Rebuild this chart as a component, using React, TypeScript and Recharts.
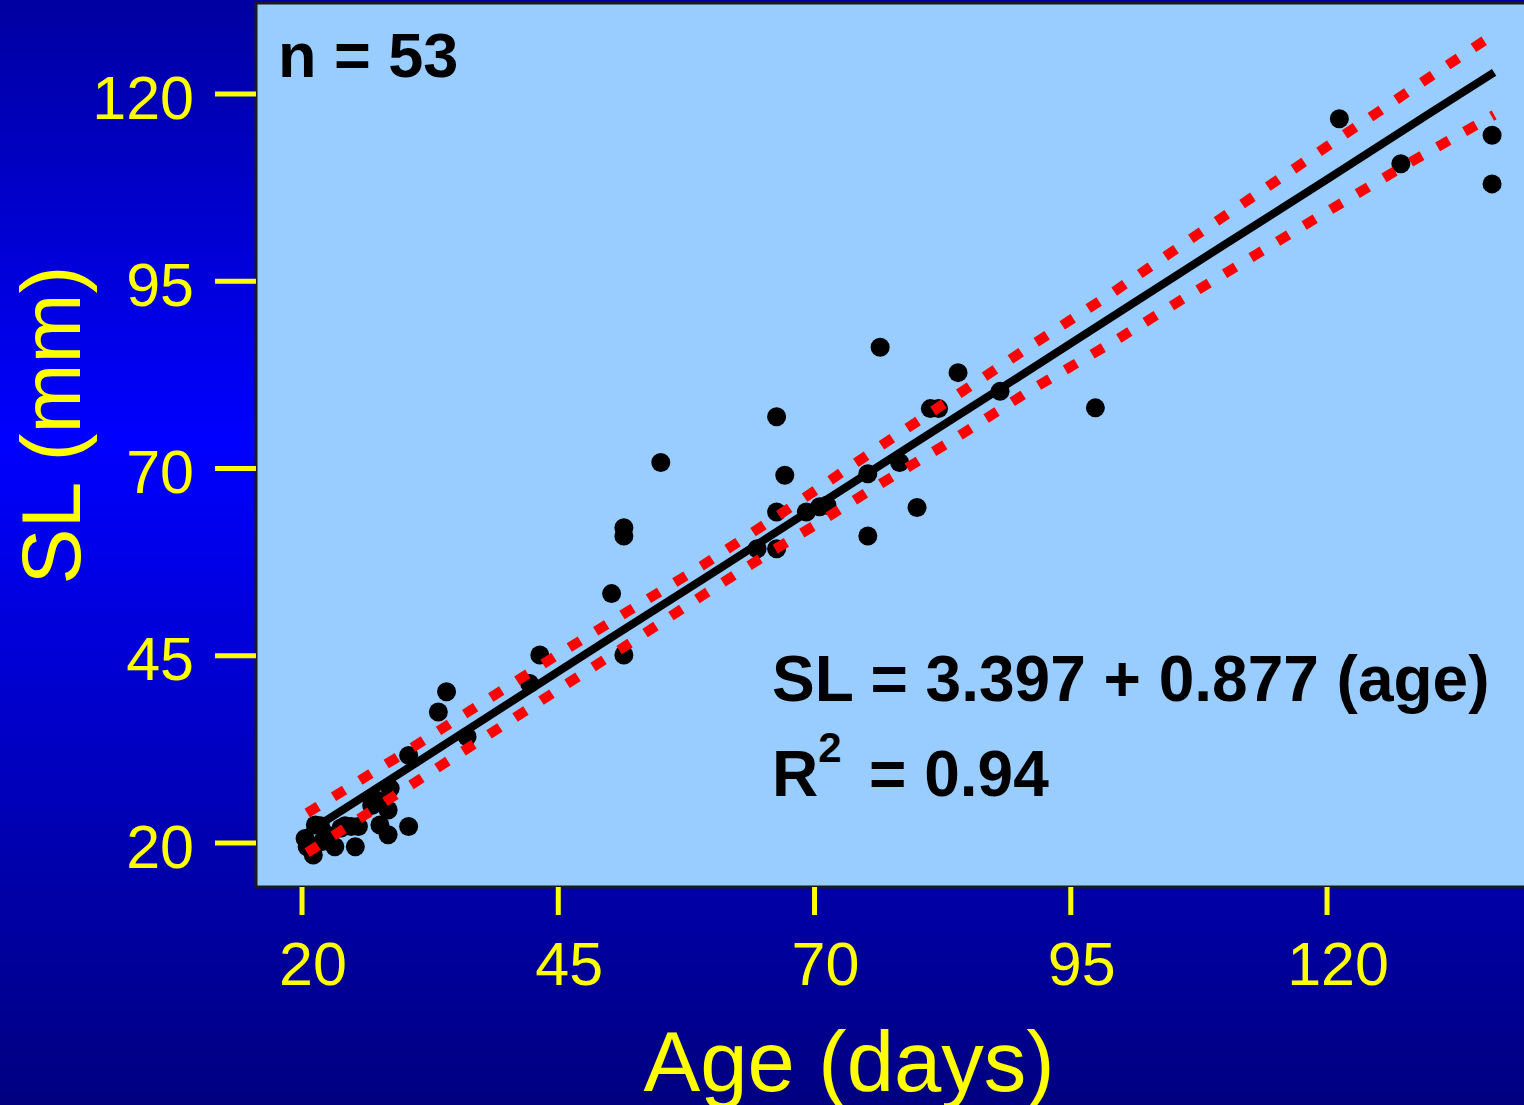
import { ScatterChart, Scatter, XAxis, YAxis, CartesianGrid, ReferenceArea } from 'recharts';

// observed fish: age (days) and standard length (mm)
const fishAge = [
  136.1, 136.1, 127.2, 121.2, 97.4, 88.1, 84.0, 81.3, 82.1, 76.4,
  78.3, 75.2, 80.0, 75.2, 66.3, 67.1, 66.3, 69.2, 70.5, 71.2,
  64.4, 66.3, 55.0, 51.4, 51.4, 50.2, 51.4, 43.2, 42.2, 34.1,
  33.3, 36.1, 30.4, 30.4, 21.3, 20.3, 20.5, 21.1, 23.2, 22.4,
  25.2, 24.8, 25.5, 24.2, 27.3, 28.4, 27.6, 28.4, 28.6, 21.8,
  23.8, 22.0, 26.8,
];
const fishSL = [
  114.5, 108.0, 110.7, 116.7, 78.1, 80.3, 82.8, 78.0, 78.0, 86.2,
  70.8, 69.3, 64.8, 61.0, 76.9, 69.1, 64.2, 64.2, 64.9, 65.1,
  59.3, 59.3, 70.8, 62.1, 61.0, 53.3, 45.1, 45.1, 41.3, 40.2,
  37.5, 34.2, 31.7, 22.2, 22.4, 20.6, 19.5, 18.4, 19.5, 21.1,
  19.5, 22.2, 22.2, 22.3, 25.7, 24.4, 22.4, 21.1, 27.3, 22.3,
  22.0, 20.2, 25.0,
];

// fitted line
const fitAge = [20.5, 30, 40, 50, 60, 70, 80, 90, 100, 110, 120, 130, 136.3];
const fitSL = [21.4, 29.7, 38.5, 47.3, 56.0, 64.8, 73.6, 82.3, 91.1, 99.9, 108.6, 117.4, 122.9];

// confidence band (red dotted)
const bandAge = [20.5, 29, 37, 45, 52, 59, 66, 70, 76, 83, 91, 99, 106, 113, 120, 128, 136.3];
const bandUpper = [24.0, 31.2, 38.2, 45.2, 51.1, 57.0, 63.3, 67.0, 72.6, 79.0, 86.3, 93.4, 100.0, 106.5, 113.0, 120.4, 128.0];
const bandLower = [18.7, 26.3, 33.4, 40.5, 46.7, 53.0, 59.1, 62.4, 67.6, 73.4, 80.4, 86.8, 92.7, 98.5, 104.3, 110.8, 117.2];

const xTicks = [20, 45, 70, 95, 120];
const yTicks = [20, 45, 70, 95, 120];

const X_DOMAIN: [number, number] = [15.51, 139.8];
const Y_DOMAIN: [number, number] = [14.13, 132.15];

const FONT = '"Liberation Sans", Arial, sans-serif';
const YELLOW = '#ffff00';

const points = fishAge.map((age, i) => ({ age, sl: fishSL[i] }));
const fit = fitAge.map((age, i) => ({ age, sl: fitSL[i] }));
const upper = bandAge.map((age, i) => ({ age, sl: bandUpper[i] }));
const lower = bandAge.map((age, i) => ({ age, sl: bandLower[i] }));

const noDot = (p: any) => <circle cx={p.cx} cy={p.cy} r={0} />;
const dot = (p: any) => <circle cx={p.cx} cy={p.cy} r={9.5} fill="#000" />;

const bandLine = { stroke: '#ff0000', strokeWidth: 10, strokeDasharray: '13 18' };

export default function App() {
  return (
    <div
      style={{
        position: 'absolute',
        left: 0,
        top: 0,
        width: 1524,
        height: 1105,
        overflow: 'hidden',
        background: 'linear-gradient(to bottom, #0000a0 0%, #0000ff 40%, #0000a8 80%, #000080 100%)',
      }}
    >
      <ScatterChart width={1530} height={1105} margin={{ top: 3, right: 0, bottom: 0, left: 0 }}>
        <CartesianGrid fill="#99ccff" horizontal={false} vertical={false} />
        <XAxis
          type="number"
          dataKey="age"
          domain={X_DOMAIN}
          allowDataOverflow
          ticks={xTicks}
          height={218}
          axisLine={false}
          tickSize={28}
          tickMargin={27}
          tickLine={{ stroke: YELLOW, strokeWidth: 5 }}
          tick={{ fill: YELLOW, fontSize: 61, fontFamily: FONT, dx: 11 }}
        />
        <YAxis
          type="number"
          dataKey="sl"
          domain={Y_DOMAIN}
          allowDataOverflow
          ticks={yTicks}
          width={256}
          axisLine={false}
          tickSize={41}
          tickMargin={21}
          tickLine={{ stroke: YELLOW, strokeWidth: 5 }}
          tick={{ fill: YELLOW, fontSize: 61, fontFamily: FONT, dy: 3 }}
        />
        <ReferenceArea
          x1={X_DOMAIN[0]}
          x2={X_DOMAIN[1]}
          y1={Y_DOMAIN[0]}
          y2={Y_DOMAIN[1]}
          fill="none"
          stroke="#1a1a1a"
          strokeWidth={3}
          ifOverflow="visible"
        />
        <Scatter data={points} shape={dot} isAnimationActive={false} />
        <Scatter
          data={fit}
          shape={noDot}
          line={{ stroke: '#000', strokeWidth: 8 }}
          isAnimationActive={false}
        />
        <Scatter data={upper} shape={noDot} line={bandLine} isAnimationActive={false} />
        <Scatter data={lower} shape={noDot} line={bandLine} isAnimationActive={false} />
      </ScatterChart>
      <svg
        width={1524}
        height={1105}
        style={{ position: 'absolute', left: 0, top: 0, pointerEvents: 'none' }}
      >
        <text x={278} y={77} fontFamily={FONT} fontWeight="bold" fontSize={63} fill="#000">
          n = 53
        </text>
        <text x={772} y={701} fontFamily={FONT} fontWeight="bold" fontSize={64} fill="#000">
          SL = 3.397 + 0.877 (age)
        </text>
        <text x={772} y={796} fontFamily={FONT} fontWeight="bold" fontSize={64} fill="#000">
          R
          <tspan fontSize={42} dy={-34}>2</tspan>
          <tspan x={869} dy={34}>= 0.94</tspan>
        </text>
        <text
          x={0}
          y={0}
          transform="translate(80 425) rotate(-90)"
          textAnchor="middle"
          fontFamily={FONT}
          fontSize={84}
          fill={YELLOW}
        >
          SL (mm)
        </text>
        <text x={849} y={1091} textAnchor="middle" fontFamily={FONT} fontSize={85} fill={YELLOW}>
          Age (days)
        </text>
      </svg>
    </div>
  );
}
